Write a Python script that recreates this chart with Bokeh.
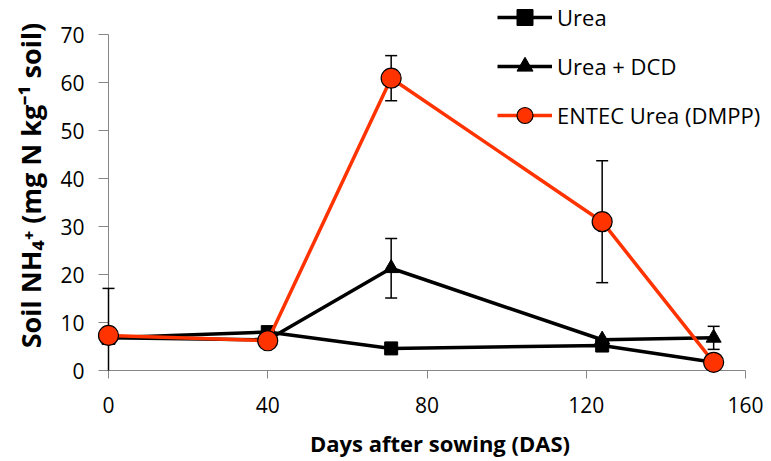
from bokeh.plotting import figure
from bokeh.models import Range1d, FixedTicker, Legend, LegendItem
from bokeh.embed import file_html
from bokeh.resources import INLINE

# Sampling days after sowing
days = [0, 40, 71, 124, 152]

# Soil NH4+ (mg N per kg soil) and standard errors for each treatment
urea = [6.8, 8.0, 4.6, 5.2, 1.7]
urea_err = [10.3, 0, 0, 0, 0]

urea_dcd = [6.8, 6.4, 21.3, 6.4, 6.8]
urea_dcd_err = [0, 0, 6.2, 0, 2.4]

entec = [7.3, 6.2, 60.9, 31.0, 1.7]
entec_err = [0, 0, 4.7, 12.7, 0]

x_ticks = [0, 40, 80, 120, 160]
y_ticks = [0, 10, 20, 30, 40, 50, 60, 70]

FONT = "Open Sans"
RED = "#FF3300"

# The frame reaches the top and right canvas edges so the legend (which sits
# partly above/right of the axes' extent) is not clipped; the axes themselves
# are bounded to 0-160 days and 0-70 mg/kg.
W, H = 771, 461
LEFT, BOTTOM = 108, 91
AX_RIGHT_PX, AX_TOP_PX = 745, 34
x_hi = 160 * (W - LEFT) / (AX_RIGHT_PX - LEFT)
y_hi = 70 * (H - BOTTOM) / (H - BOTTOM - AX_TOP_PX)

p = figure(width=W, height=H, output_backend="svg", toolbar_location=None,
           x_range=Range1d(0, x_hi), y_range=Range1d(0, y_hi),
           min_border_left=LEFT, min_border_right=0,
           min_border_top=0, min_border_bottom=BOTTOM)
p.outline_line_color = None
p.xgrid.visible = False
p.ygrid.visible = False
p.background_fill_color = "white"
p.border_fill_color = "white"

for ax in (p.xaxis[0], p.yaxis[0]):
    ax.axis_line_color = "#868686"
    ax.major_tick_line_color = "#868686"
    ax.minor_tick_line_color = None
    ax.major_tick_in = 0
    ax.major_label_text_font = FONT
    ax.major_label_text_font_size = "21px"
    ax.major_label_text_color = "black"
    ax.axis_label_text_font = FONT
    ax.axis_label_text_font_style = "bold"
    ax.axis_label_text_color = "black"

p.xaxis.bounds = (0, 160)
p.yaxis.bounds = (0, 70)
p.xaxis.ticker = FixedTicker(ticks=x_ticks)
p.yaxis.ticker = FixedTicker(ticks=y_ticks)
p.xaxis.major_tick_out = 8
p.yaxis.major_tick_out = 10
p.xaxis.major_label_standoff = 18
p.yaxis.major_label_standoff = 14
p.xaxis.axis_label = "Days after sowing (DAS)"
p.yaxis.axis_label = "Soil NH\u2084\u207a (mg N kg\u207b\u00b9 soil)"
p.xaxis.axis_label_text_font_size = "22px"
p.yaxis.axis_label_text_font_size = "27px"
p.xaxis.axis_label_standoff = 12
p.yaxis.axis_label_standoff = 8

# data marks sit above the axis lines
LEVEL = "overlay"


def error_bars(ys, errs):
    xs = [d for d, e in zip(days, errs) if e > 0]
    lo = [max(y - e, 0) for y, e in zip(ys, errs) if e > 0]
    hi = [y + e for y, e in zip(ys, errs) if e > 0]
    lo_cap = [y - e for y, e in zip(ys, errs) if e > 0 and y - e >= 0]
    lo_x = [d for d, y, e in zip(days, ys, errs) if e > 0 and y - e >= 0]
    p.segment(xs, lo, xs, hi, line_color="black", line_width=1.5, level=LEVEL)
    p.scatter(xs + lo_x, hi + lo_cap, marker="dash", size=12,
              line_color="black", line_width=1.5, level=LEVEL)


error_bars(urea, urea_err)
error_bars(urea_dcd, urea_dcd_err)
error_bars(entec, entec_err)

l1 = p.line(days, urea, line_color="black", line_width=3.5, level=LEVEL)
m1 = p.scatter(days, urea, marker="square", size=13,
               fill_color="black", line_color="black", level=LEVEL)
l2 = p.line(days, urea_dcd, line_color="black", line_width=3.5, level=LEVEL)
m2 = p.scatter(days, urea_dcd, marker="triangle", size=15,
               fill_color="black", line_color="black", level=LEVEL)
l3 = p.line(days, entec, line_color=RED, line_width=3.5, level=LEVEL)
m3 = p.scatter(days, entec, marker="circle", size=20,
               fill_color=RED, line_color="black", line_width=1.2, level=LEVEL)

legend = Legend(items=[
    LegendItem(label="Urea", renderers=[l1, m1]),
    LegendItem(label="Urea + DCD", renderers=[l2, m2]),
    LegendItem(label="ENTEC Urea (DMPP)", renderers=[l3, m3]),
], location=(389, 235))
legend.padding = 0
legend.margin = 0
legend.spacing = 9
legend.glyph_width = 55
legend.glyph_height = 40
legend.label_height = 20
legend.label_standoff = 5
legend.label_text_font = FONT
legend.label_text_font_size = "22px"
legend.label_text_color = "black"
legend.border_line_alpha = 0
legend.background_fill_alpha = 0
p.add_layout(legend)

open("out.html", "w").write(file_html(p, INLINE))
